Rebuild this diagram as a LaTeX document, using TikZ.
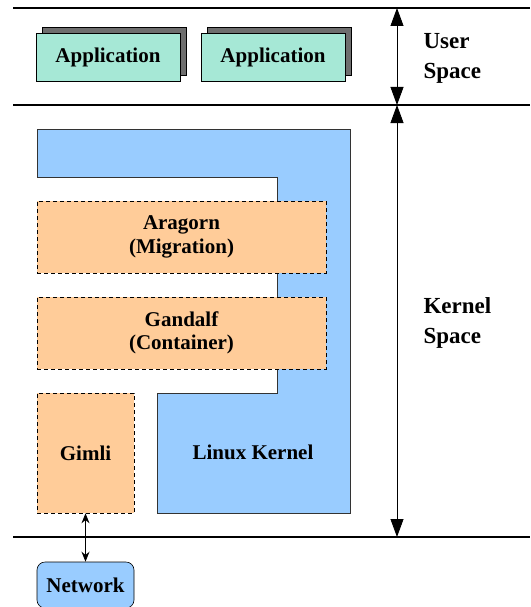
\documentclass[tikz,border=0pt]{standalone}
\usepackage{fontspec}
\setmainfont{Liberation Serif}
\usetikzlibrary{arrows.meta}
\definecolor{appgreen}{RGB}{166,232,214}
\definecolor{shadowgray}{RGB}{110,110,110}
\definecolor{kblue}{RGB}{153,204,255}
\definecolor{peach}{RGB}{255,204,153}
\begin{document}
\begin{tikzpicture}[x=1pt,y=-1pt,
  lbl/.style={font=\rmfamily\bfseries\fontsize{21}{23.5}\selectfont, align=center},
  side/.style={font=\rmfamily\bfseries\fontsize{23}{30}\selectfont, align=left, anchor=west},
  appbox/.style={draw=black, fill=appgreen, minimum width=144pt, minimum height=48pt, inner sep=0pt, line width=0.6pt, lbl},
  shadowbox/.style={draw=black, fill=shadowgray, minimum width=144pt, minimum height=48pt, inner sep=0pt, line width=0.6pt},
  orangebox/.style={draw=black, dash pattern=on 4pt off 3pt, fill=peach, inner sep=0pt, line width=0.6pt, lbl},
  sep/.style={line width=2pt},
  bigarrow/.style={line width=0.8pt, {Triangle[width=13pt,length=18pt]}-{Triangle[width=13pt,length=18pt]}},
  smallarrow/.style={line width=0.9pt, {Stealth[width=8pt,length=10pt]}-{Stealth[width=8pt,length=10pt]}}
]
\useasboundingbox (0,0) rectangle (530,607);

% separator lines
\coordinate (t0) at (13,8);   \coordinate (t1) at (530,8);
\coordinate (m0) at (13,105); \coordinate (m1) at (530,105);
\coordinate (b0) at (13,537); \coordinate (b1) at (530,537);
\draw[sep] (t0) -- (t1);
\draw[sep] (m0) -- (m1);
\draw[sep] (b0) -- (b1);

% applications
\node[shadowbox] (s1) at (114,51) {};
\node[appbox] (a1) at (108,57) {Application};
\node[shadowbox] (s2) at (279,51) {};
\node[appbox] (a2) at (273,57) {Application};

% space arrows
\coordinate (ua) at (397,8);
\coordinate (ma) at (397,105);
\coordinate (ba) at (397,537);
\draw[bigarrow] (ua) -- (ma);
\draw[bigarrow] (ma) -- (ba);
\node[side] (us) at (420,58) {User\\Space};
\node[side] (ks) at (420,323) {Kernel\\Space};

% linux kernel region
\draw[fill=kblue, draw=black!80, line width=0.6pt]
  (37,129) -- (350,129) -- (350,513) -- (157,513) -- (157,393)
  -- (277,393) -- (277,177) -- (37,177) -- cycle;
\node[lbl] (lk) at (253,452) {Linux Kernel};

% orange boxes
\node[orangebox, minimum width=289pt, minimum height=72pt] (arag) at (181.5,237) {Aragorn\\(Migration)};
\node[orangebox, minimum width=289pt, minimum height=72pt] (gand) at (181.5,333) {Gandalf\\(Container)};
\node[orangebox, minimum width=97pt, minimum height=120pt] (gimli) at (85.5,453) {Gimli};

% network
\node[draw=black, fill=kblue, rounded corners=8pt, minimum width=97pt, minimum height=46pt, inner sep=0pt, line width=0.6pt, lbl] (net) at (85.5,585) {Network};
\draw[smallarrow] (gimli.south) -- (net.north);
\end{tikzpicture}
\end{document}
